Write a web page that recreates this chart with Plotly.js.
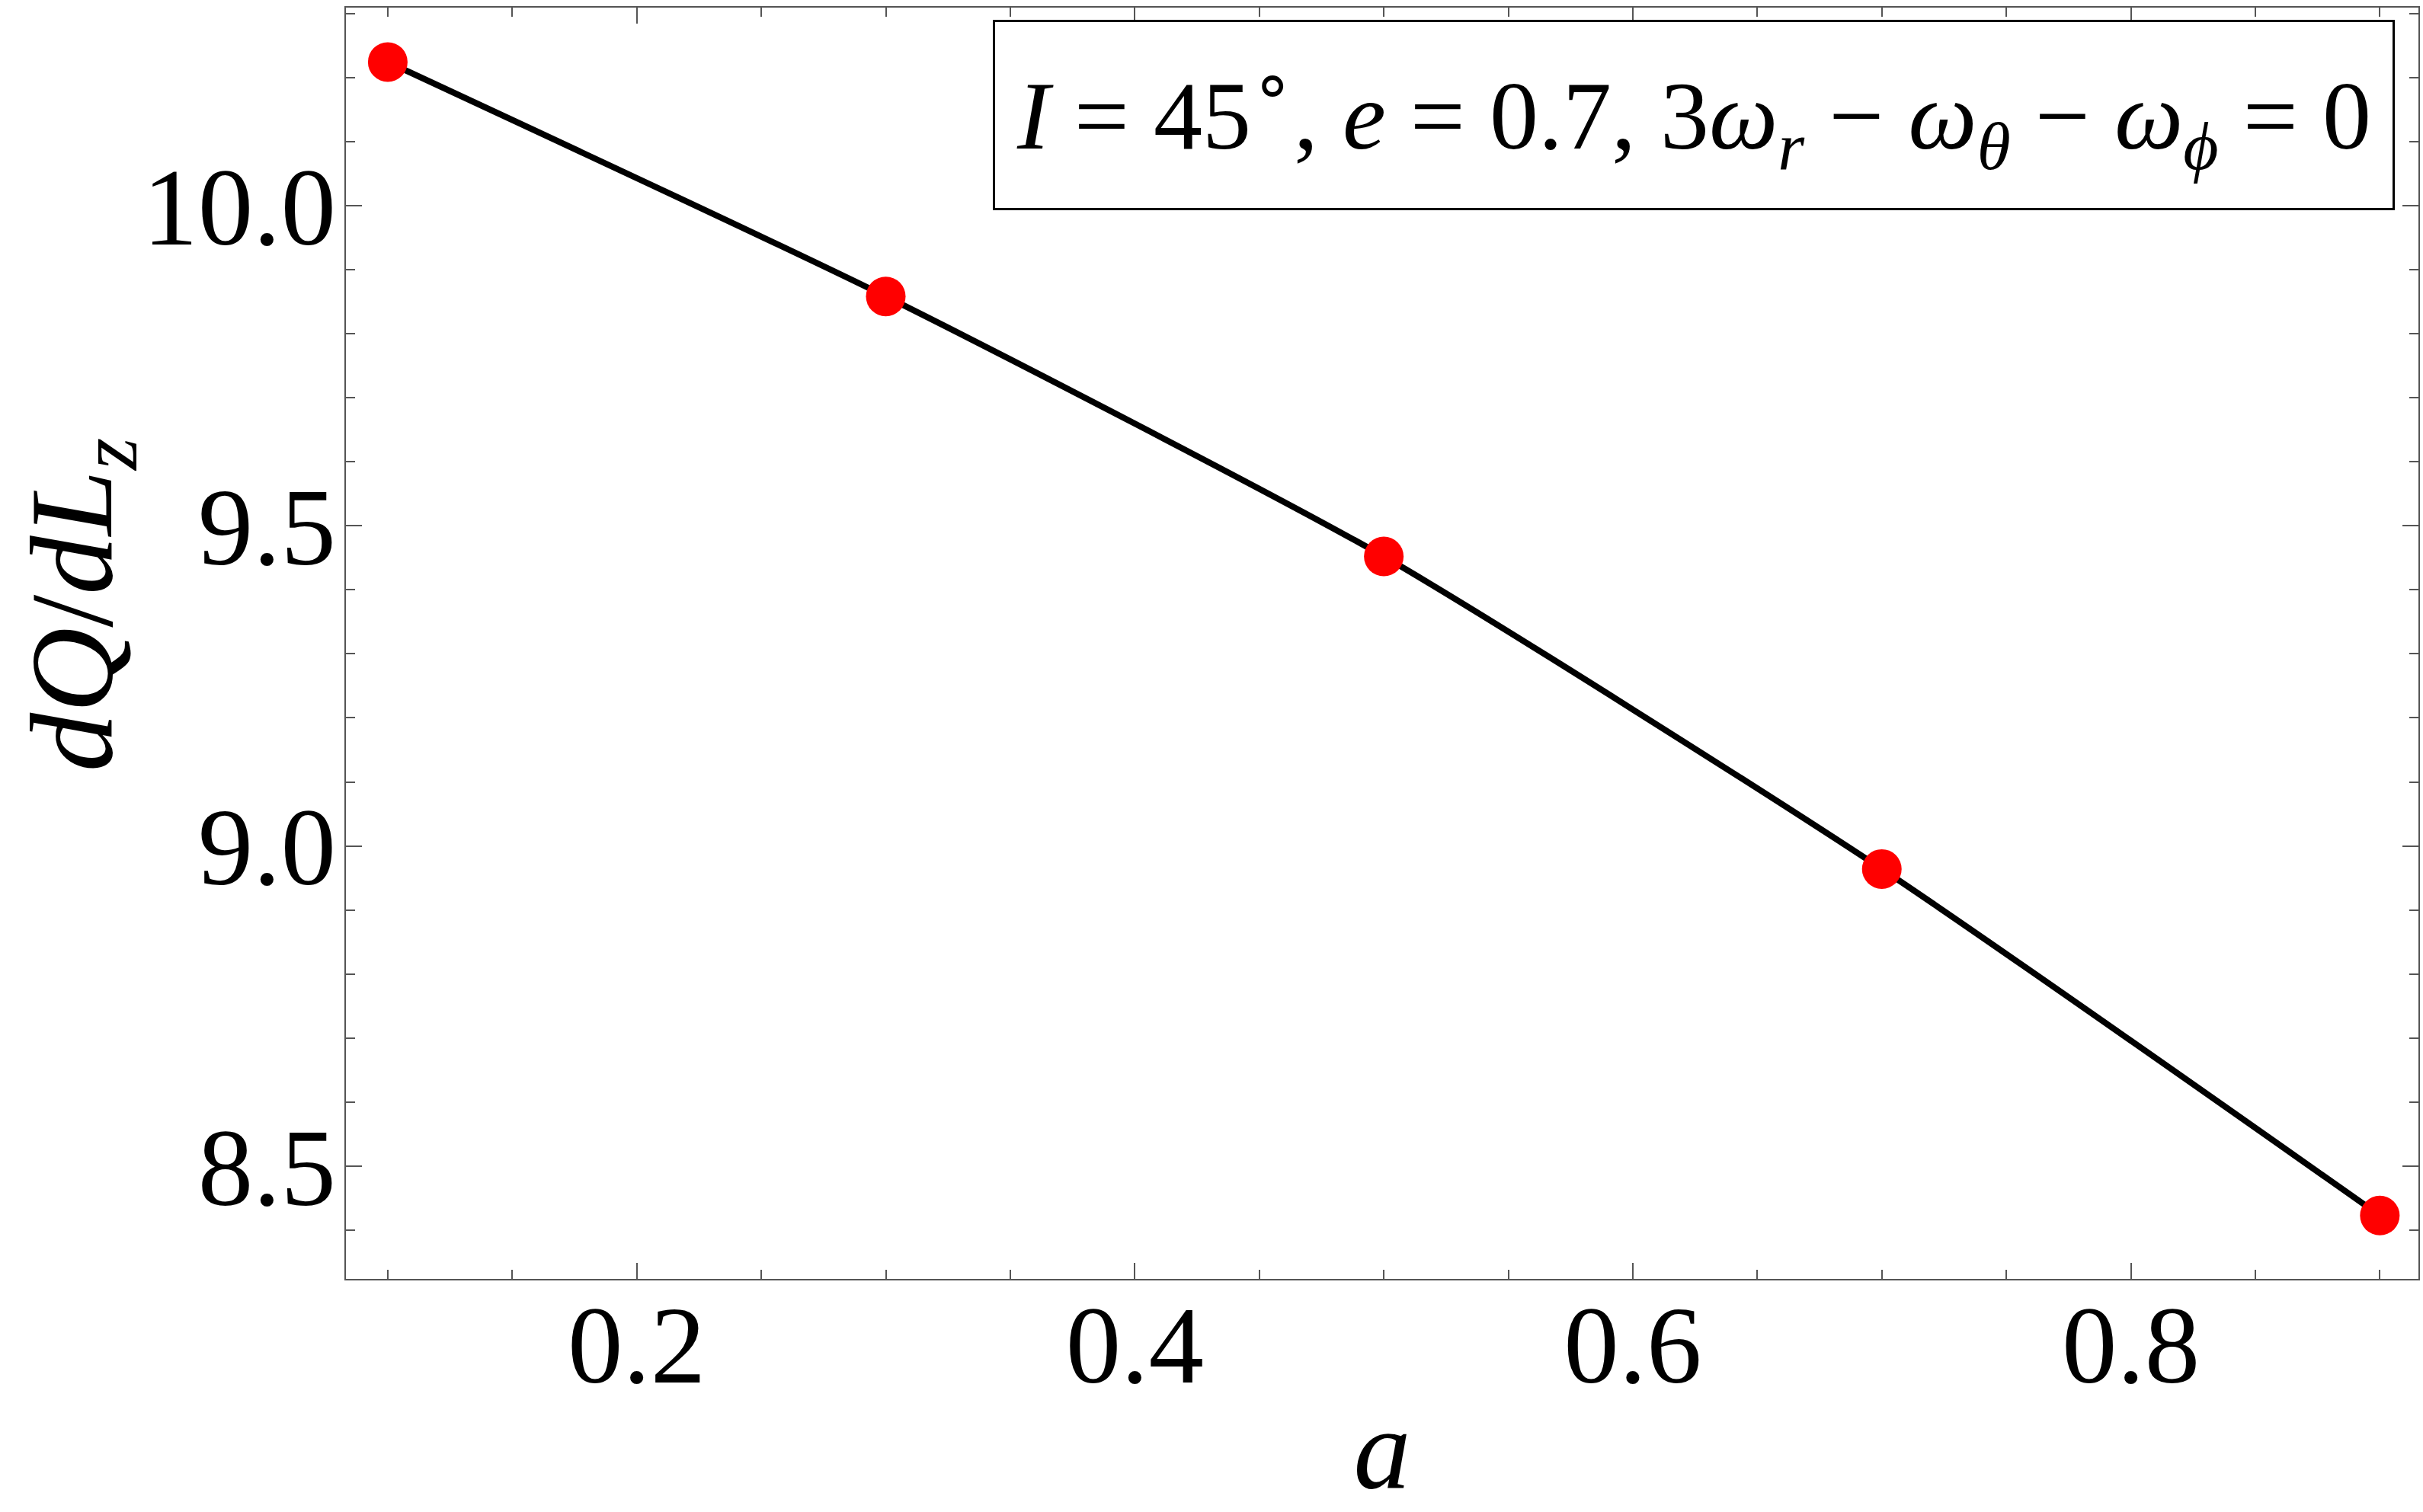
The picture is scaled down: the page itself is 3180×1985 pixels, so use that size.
<!DOCTYPE html>
<html>
<head>
<meta charset="utf-8">
<script src="https://cdn.plot.ly/plotly-3.0.1.min.js"></script>
<style>
  html, body { margin: 0; padding: 0; background: #fff; }
  #chart { width: 3180px; height: 1985px; }
</style>
</head>
<body>
<div id="chart"></div>
<script>
// spin parameter a and the measured dQ/dLz values
const spinA = [0.1, 0.3, 0.5, 0.7, 0.9];
const dQdLz = [10.224, 9.858, 9.452, 8.964, 8.423];

const xTickVals = [0.2, 0.4, 0.6, 0.8];
const xTickText = ["0.2", "0.4", "0.6", "0.8"];
const yTickVals = [8.5, 9.0, 9.5, 10.0];
const yTickText = ["8.5", "9.0", "9.5", "10.0"];

const serif = "Liberation Serif, Times New Roman, serif";
const axisGray = "#555555";

const traces = [
  {
    type: "scatter",
    mode: "lines",
    x: spinA,
    y: dQdLz,
    line: { color: "black", width: 8, shape: "spline", smoothing: 0.6 },
    hoverinfo: "skip",
  },
  {
    type: "scatter",
    mode: "markers",
    x: spinA,
    y: dQdLz,
    marker: { color: "#ff0000", size: 52 },
  },
];

const axisCommon = {
  showgrid: false,
  zeroline: false,
  showline: true,
  linecolor: axisGray,
  linewidth: 2,
  mirror: "ticks",
  ticks: "inside",
  tickcolor: axisGray,
  tickwidth: 2,
  ticklen: 21,
  tickfont: { family: serif, size: 145, color: "black" },
};

const layout = {
  width: 3180,
  height: 1985,
  margin: { l: 454, r: 6, t: 10, b: 306 },
  paper_bgcolor: "white",
  plot_bgcolor: "white",
  showlegend: false,
  xaxis: Object.assign({}, axisCommon, {
    range: [0.0832, 0.9155],
    tickmode: "array",
    tickvals: xTickVals,
    ticktext: xTickText,
    ticklabelstandoff: -40,
    minor: { dtick: 0.05, tick0: 0, ticks: "inside", ticklen: 12, tickcolor: axisGray, tickwidth: 2 },
    title: { text: "<i>a</i>", font: { family: serif, size: 150, color: "black" }, standoff: 60 },
  }),
  yaxis: Object.assign({}, axisCommon, {
    range: [8.324, 10.309],
    tickmode: "array",
    tickvals: yTickVals,
    ticktext: yTickText,
    ticklabelstandoff: -18,
    minor: { dtick: 0.1, tick0: 0, ticks: "inside", ticklen: 12, tickcolor: axisGray, tickwidth: 2 },
  }),
  annotations: [
    {
      // y axis title, sits a little above the plot middle as in the source
      xref: "paper",
      yref: "paper",
      x: -0.128,
      y: 0.53,
      xanchor: "center",
      yanchor: "middle",
      textangle: -90,
      showarrow: false,
      font: { family: serif, size: 155, color: "black" },
      text: "<i>dQ</i>/<i>dL</i><sub><i>z</i></sub>",
    },
    {
      xref: "paper",
      yref: "paper",
      x: 0.9886,
      y: 0.9904,
      xanchor: "right",
      yanchor: "top",
      showarrow: false,
      width: 1830,
      height: 240,
      align: "center",
      valign: "middle",
      bgcolor: "white",
      bordercolor: "black",
      borderwidth: 3,
      borderpad: 2,
      font: { family: serif, size: 128, color: "black" },
      text: "<i>I</i> = 45<sup>∘</sup>, <i>e</i> = 0.7, 3<i>ω</i><sub><i>r</i></sub> − <i>ω</i><sub><i>θ</i></sub> − <i>ω</i><sub><i>ϕ</i></sub> = 0",
    },
  ],
};

Plotly.newPlot("chart", traces, layout, { staticPlot: true });
</script>
</body>
</html>
